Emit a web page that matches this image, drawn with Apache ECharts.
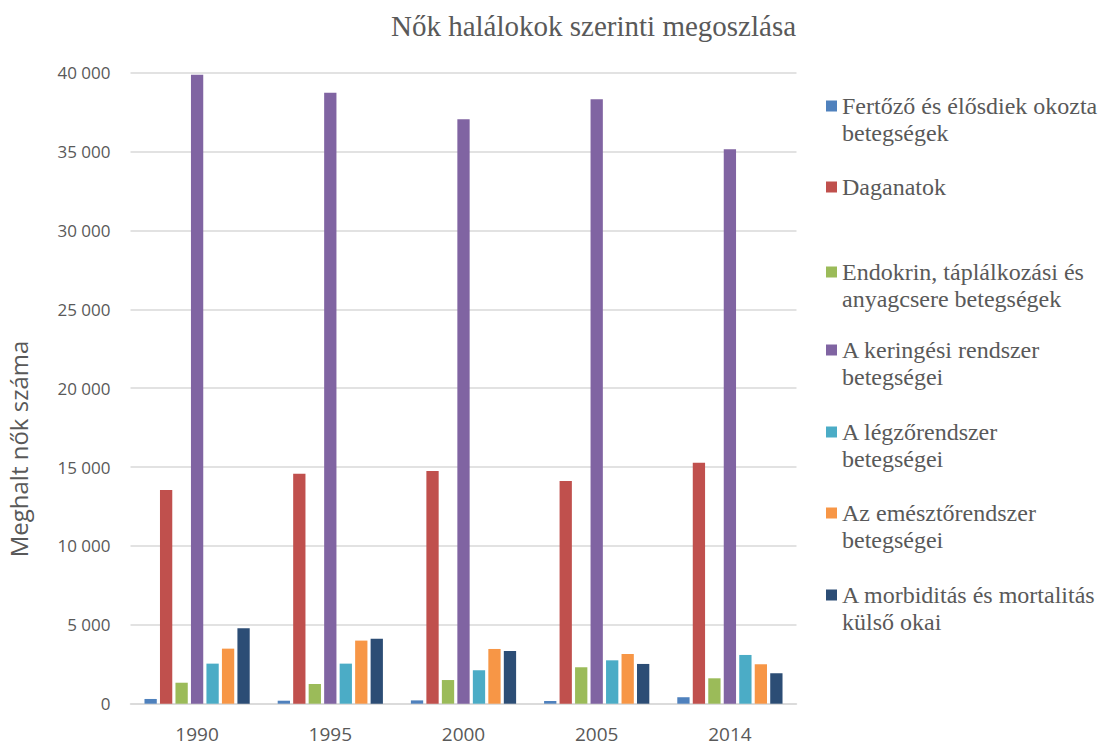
<!DOCTYPE html>
<html>
<head>
<meta charset="utf-8">
<script src="https://cdn.jsdelivr.net/npm/echarts@6/dist/echarts.min.js"></script>
<style>
  html, body { margin: 0; padding: 0; background: #ffffff; }
  #chart { width: 1105px; height: 747px; }
</style>
</head>
<body>
<div id="chart"></div>
<script>
// Years on the category axis
const years = ['1990', '1995', '2000', '2005', '2014'];

// Cause-of-death groups (series names)
const causeNames = [
  'Fertőző és élősdiek okozta betegségek',
  'Daganatok',
  'Endokrin, táplálkozási és anyagcsere betegségek',
  'A keringési rendszer betegségei',
  'A légzőrendszer betegségei',
  'Az emésztőrendszer betegségei',
  'A morbiditás és mortalitás külső okai'
];

// Legend labels, broken into lines
const legendLines = [
  ['Fertőző és élősdiek okozta', 'betegségek'],
  ['Daganatok'],
  ['Endokrin, táplálkozási és', 'anyagcsere betegségek'],
  ['A keringési rendszer', 'betegségei'],
  ['A légzőrendszer', 'betegségei'],
  ['Az emésztőrendszer', 'betegségei'],
  ['A morbiditás és mortalitás', 'külső okai']
];

// Female deaths per cause and year
const fertozo   = [300, 190, 210, 170, 410];
const daganatok = [13550, 14580, 14750, 14120, 15280];
const endokrin  = [1330, 1250, 1500, 2310, 1610];
const keringesi = [39870, 38730, 37050, 38310, 35140];
const legzo     = [2540, 2540, 2120, 2750, 3090];
const emeszto   = [3490, 4000, 3470, 3150, 2500];
const kulso     = [4780, 4120, 3340, 2520, 1930];

const seriesValues = [fertozo, daganatok, endokrin, keringesi, legzo, emeszto, kulso];
const colors = ['#4F81BD', '#C0504D', '#9BBB59', '#8064A2', '#4BACC6', '#F79646', '#2C4D75'];

// Vertical centre of the first line of each legend entry
const legendCenters = [106, 187, 272, 350, 432, 513, 595];
const LINE_H = 27;
const SERIF = '"Liberation Serif", "Times New Roman", serif';

const fmtThousands = v => String(v).replace(/\B(?=(\d{3})+(?!\d))/g, ' ');

const legendTextStyle = {
  fontFamily: SERIF,
  fontSize: 24,
  lineHeight: LINE_H,
  color: '#595959'
};

const legends = causeNames.map((name, i) => {
  const lines = legendLines[i];
  const rich = lines.map(l => '{s|' + l + '}');
  // two-line entries get a leading blank line so the key sits beside line one
  const text = lines.length > 1 ? '\n' + rich.join('\n') : rich[0];
  const boxH = (lines.length > 1 ? 3 : 1) * LINE_H;
  return {
    data: [name],
    orient: 'vertical',
    left: 826,
    top: legendCenters[i] - boxH / 2,
    icon: 'rect',
    itemWidth: 11,
    itemHeight: 11,
    itemGap: 0,
    padding: 0,
    selectedMode: false,
    formatter: () => text,
    textStyle: Object.assign({}, legendTextStyle, {
      rich: { s: Object.assign({}, legendTextStyle) }
    })
  };
});

const chart = echarts.init(document.getElementById('chart'), null, { renderer: 'svg' });

chart.setOption({
  backgroundColor: '#ffffff',
  animation: false,
  textStyle: { fontFamily: SERIF },
  title: {
    text: 'Nők halálokok szerinti megoszlása',
    left: 386,
    top: 6,
    textStyle: {
      fontFamily: SERIF,
      fontSize: 29,
      fontWeight: 'normal',
      color: '#595959'
    }
  },
  legend: legends,
  grid: { left: 130.5, right: 308.5, top: 72.7, bottom: 43.3 },
  xAxis: {
    type: 'category',
    data: years,
    axisLine: { lineStyle: { color: '#d9d9d9', width: 1.5 } },
    axisTick: { show: false },
    axisLabel: {
      margin: 21,
      fontFamily: 'Open Sans',
      fontSize: 19,
      color: '#595959'
    }
  },
  yAxis: {
    type: 'value',
    min: 0,
    max: 40000,
    interval: 5000,
    axisLine: { show: false },
    axisTick: { show: false },
    splitLine: { lineStyle: { color: '#d9d9d9', width: 1.5 } },
    axisLabel: {
      margin: 20,
      fontFamily: 'Open Sans',
      fontSize: 17,
      color: '#595959',
      formatter: fmtThousands
    }
  },
  graphic: [{
    type: 'text',
    x: 18,
    y: 449,
    rotation: Math.PI / 2,
    style: {
      text: 'Meghalt nők száma',
      fontFamily: 'Open Sans',
      fontSize: 24,
      fill: '#595959',
      align: 'center',
      verticalAlign: 'middle'
    }
  }],
  series: causeNames.map((name, i) => ({
    name: name,
    type: 'bar',
    data: seriesValues[i],
    itemStyle: { color: colors[i] },
    barGap: '26%',
    barCategoryGap: '21%'
  }))
});
</script>
</body>
</html>
